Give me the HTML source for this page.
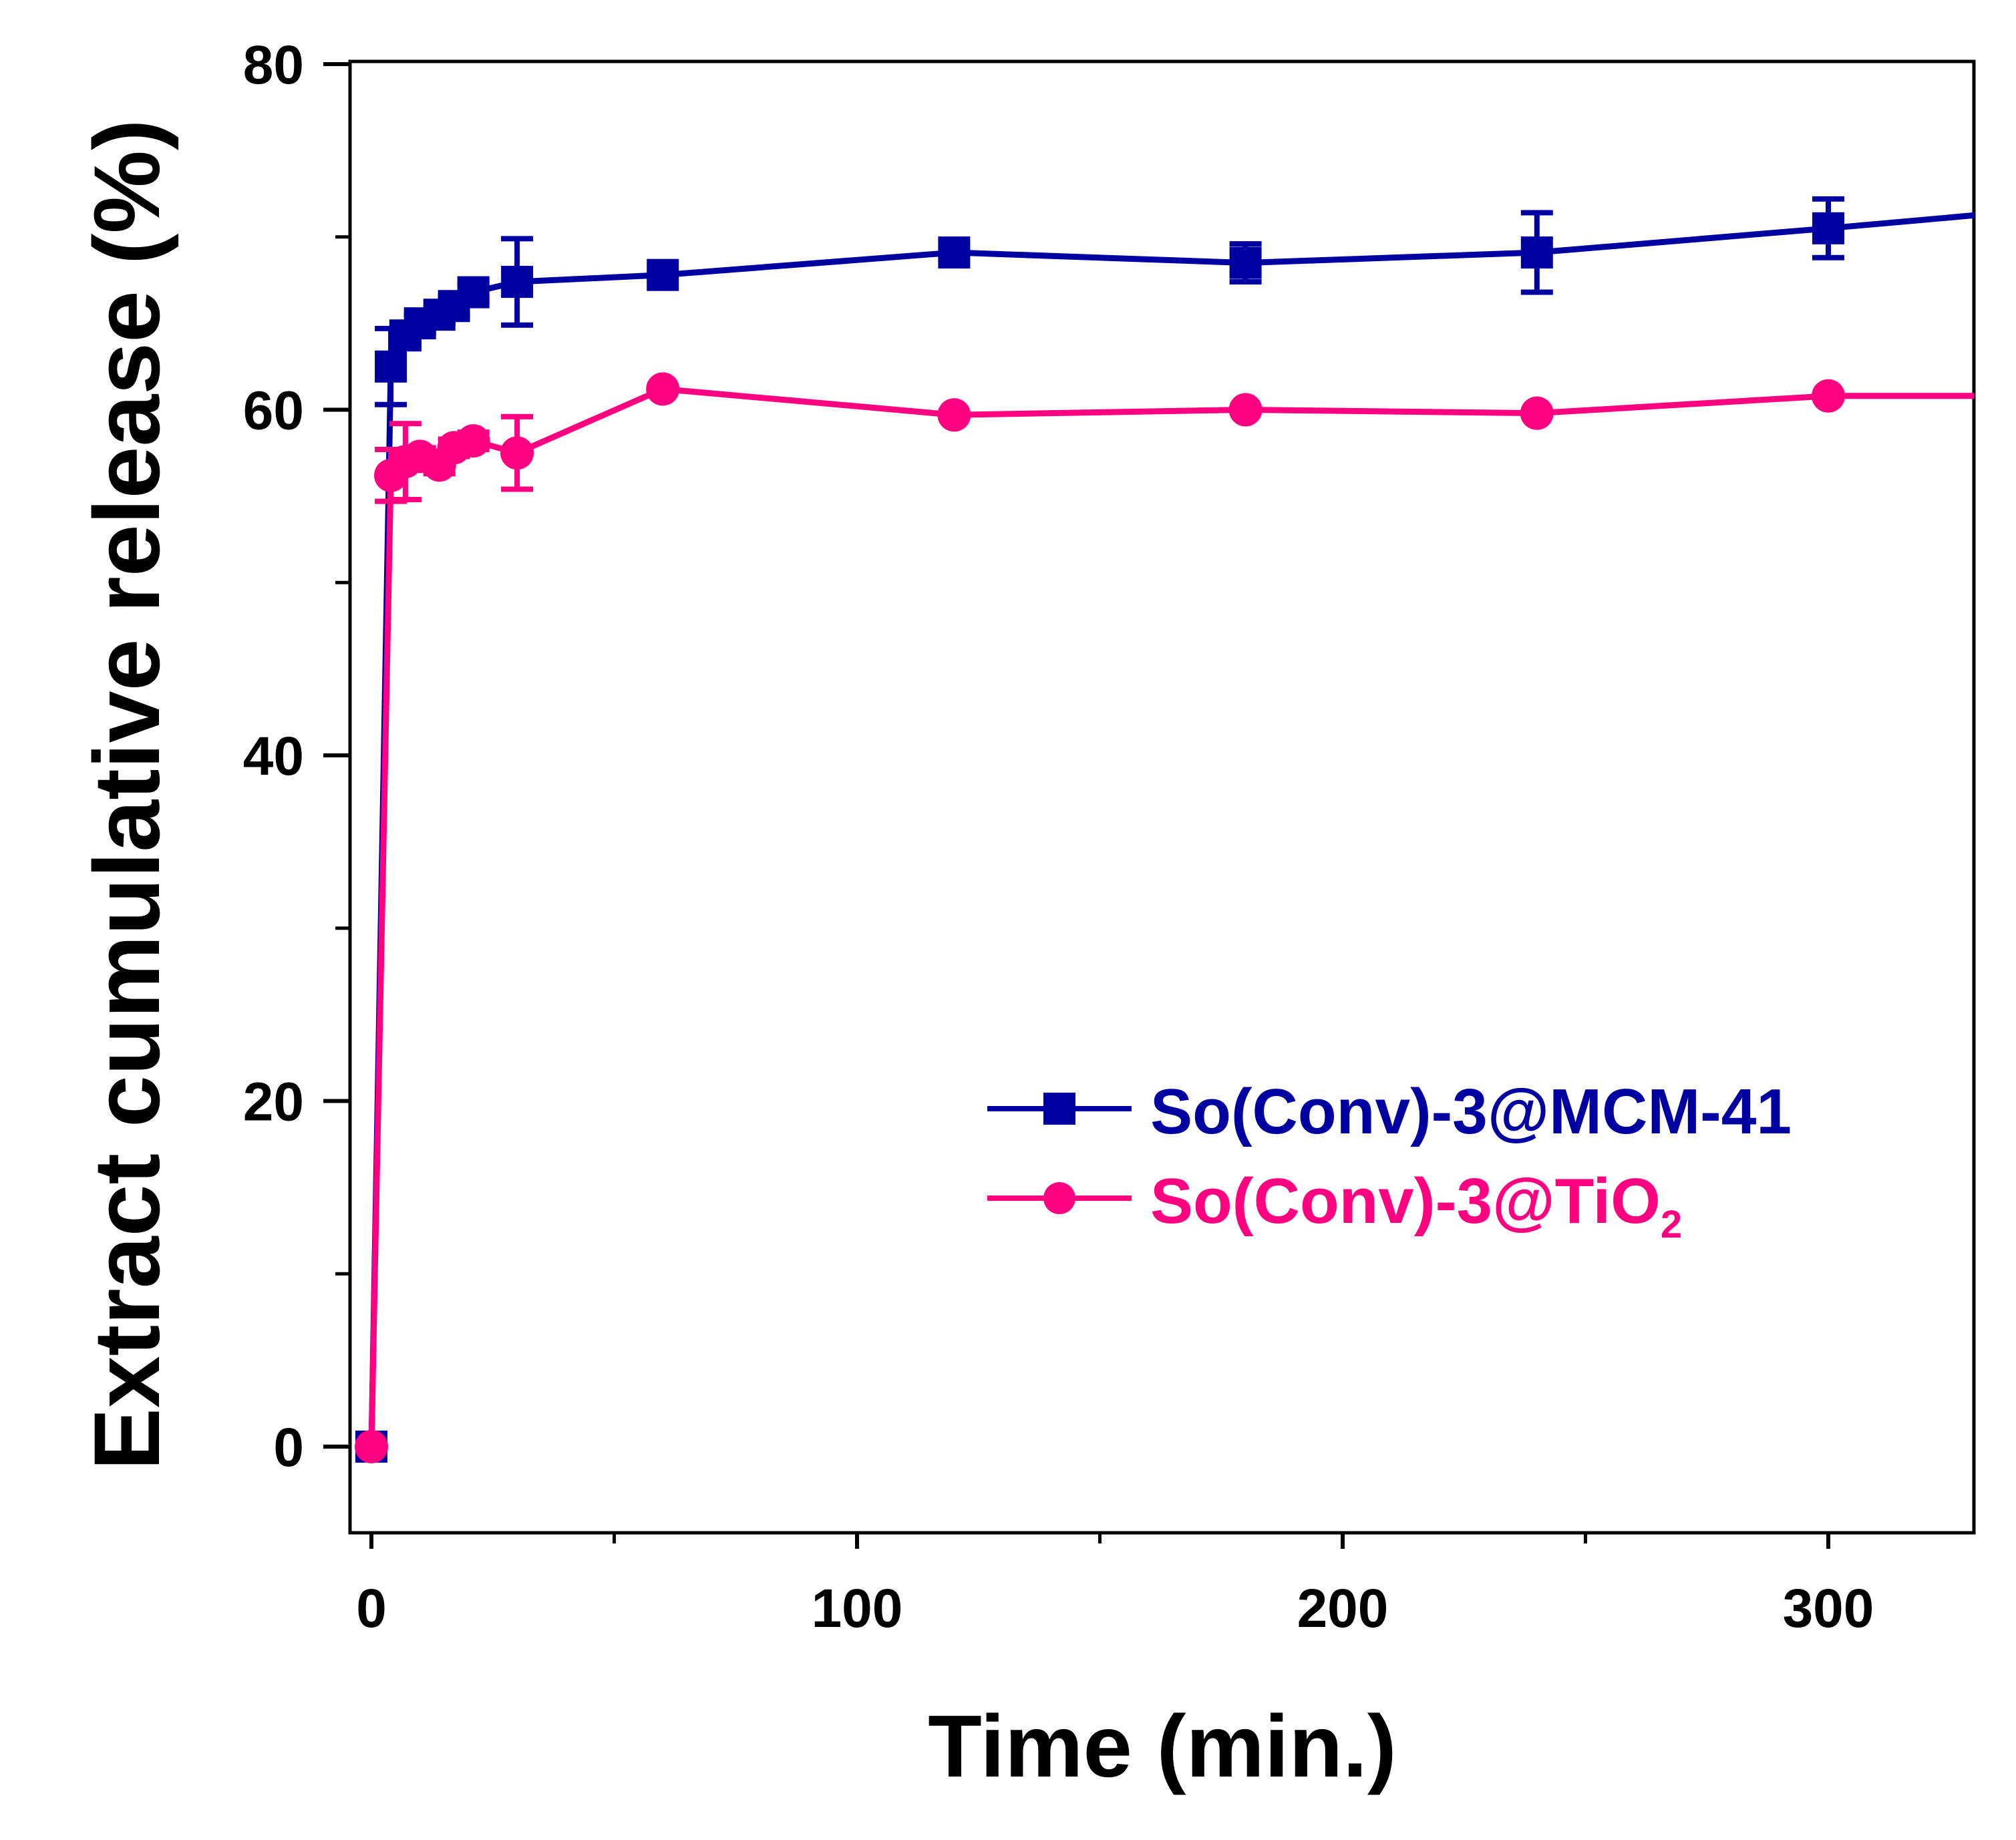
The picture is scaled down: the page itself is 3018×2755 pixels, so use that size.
<!DOCTYPE html>
<html><head><meta charset="utf-8"><style>html,body{margin:0;padding:0;background:#fff}svg{display:block}</style></head>
<body>
<svg id="chart" width="3018" height="2755" viewBox="0 0 3018 2755" xmlns="http://www.w3.org/2000/svg" font-family="'Liberation Sans', sans-serif">
<g id="axes"></g>
<g id="plot"></g>
<text transform="translate(238,1190) rotate(-90)" text-anchor="middle" font-size="140" font-weight="bold" fill="#000">Extract cumulative release (%)</text>
<text x="1740" y="2660" text-anchor="middle" font-size="132" font-weight="bold" fill="#000">Time (min.)</text>
<g>
 <g>
  <line x1="1478" y1="1660" x2="1694" y2="1660" stroke="#0000a0" stroke-width="8"/>
  <rect x="1562" y="1636" width="48" height="48" fill="#0000a0"/>
  <text x="1722" y="1697" font-size="96" font-weight="bold" fill="#0000a0" textLength="960" lengthAdjust="spacingAndGlyphs">So(Conv)-3@MCM-41</text>
 </g>
 <g>
  <line x1="1478" y1="1794" x2="1694" y2="1794" stroke="#ff0080" stroke-width="8"/>
  <circle cx="1586" cy="1794" r="24" fill="#ff0080"/>
  <text x="1722" y="1831" font-size="96" font-weight="bold" fill="#ff0080">So(Conv)-3@TiO<tspan font-size="58" dy="22">2</tspan></text>
 </g>
</g>
</svg>
<script>
const timesMCM = [0, 4, 7, 10, 14, 17, 21, 30, 60, 120, 180, 240, 300, 360];
const valuesMCM = [0, 62.5, 64.3, 65, 65.5, 66, 66.8, 67.4, 67.8, 69.1, 68.5, 69.1, 70.5, 72];
const errorsMCM = [0, 2.2, 0.5, 0.5, 0.5, 0.5, 0.5, 2.5, 0.3, 0.3, 1.1, 2.3, 1.7, 0];
const timesTiO2 = [0, 4, 7, 10, 14, 17, 21, 30, 60, 120, 180, 240, 300, 360];
const valuesTiO2 = [0, 56.2, 57, 57.3, 56.8, 57.8, 58.2, 57.5, 61.2, 59.7, 60, 59.8, 60.8, 60.8];
const errorsTiO2 = [0, 1.5, 2.2, 0.5, 0.5, 0.5, 0.5, 2.1, 0.3, 0.3, 0.3, 0.3, 0.3, 0];
const xTicks = [0, 100, 200, 300];
const xMinorTicks = [50, 150, 250];
const yTicks = [0, 20, 40, 60, 80];
const yMinorTicks = [10, 30, 50, 70];

const NS = 'http://www.w3.org/2000/svg';
const L = 524, R = 2955, T = 92, B = 2295;
const xs = v => 556 + v * 7.27;
const ys = v => 2166 - v * 25.875;
function mk(tag, attrs, parent) { const e = document.createElementNS(NS, tag); for (const k in attrs) e.setAttribute(k, attrs[k]); parent.appendChild(e); return e; }
const axes = document.getElementById('axes');
const plot = document.getElementById('plot');

const frame = mk('rect', {x: L, y: T, width: R - L, height: B - T, fill: 'none', stroke: '#000', 'stroke-width': 5}, axes);



yTicks.forEach(v => {
  const t = mk('line', {x1: L - 40, x2: L, y1: ys(v), y2: ys(v), stroke: '#000', 'stroke-width': 6}, axes);
  
  
  const lb = mk('text', {x: 455, y: ys(v) + 29, 'text-anchor': 'end', 'font-size': 82, 'font-weight': 'bold', fill: '#000'}, axes);
  lb.textContent = v;
  
  
});
yMinorTicks.forEach(v => {
  const t = mk('line', {x1: L - 22, x2: L, y1: ys(v), y2: ys(v), stroke: '#000', 'stroke-width': 5}, axes);
  
  
});
xTicks.forEach(v => {
  const t = mk('line', {x1: xs(v), x2: xs(v), y1: B, y2: B + 24, stroke: '#000', 'stroke-width': 6}, axes);
  
  
  const lb = mk('text', {x: xs(v), y: 2436, 'text-anchor': 'middle', 'font-size': 82, 'font-weight': 'bold', fill: '#000'}, axes);
  lb.textContent = v;
  
  
});
xMinorTicks.forEach(v => {
  const t = mk('line', {x1: xs(v), x2: xs(v), y1: B, y2: B + 16, stroke: '#000', 'stroke-width': 5}, axes);
  
  
});

const defs = mk('defs', {}, plot);
const cp = mk('clipPath', {id: 'clip'}, defs);
mk('rect', {x: L, y: T, width: R - L, height: B - T}, cp);
const g = mk('g', {'clip-path': 'url(#clip)'}, plot);

function series(times, vals, errs, color, shape, name) {
  const sg = mk('g', {}, g);
  
  
  const pts = times.map((t, i) => xs(t) + ',' + ys(vals[i])).join(' ');
  const ln = mk('polyline', {points: pts, fill: 'none', stroke: color, 'stroke-width': 9}, sg);
  
  
  times.forEach((t, i) => {
    const cx = xs(t), cy = ys(vals[i]);
    if (errs[i] > 0.4) {
      const eb = mk('path', {d: `M${cx},${ys(vals[i]-errs[i])}V${ys(vals[i]+errs[i])}M${cx-24},${ys(vals[i]-errs[i])}h48M${cx-24},${ys(vals[i]+errs[i])}h48`, stroke: color, 'stroke-width': 8, fill: 'none'}, sg);
      
      
    }
    let m;
    if (shape === 'square') m = mk('rect', {x: cx - 24, y: cy - 24, width: 48, height: 48, fill: color}, sg);
    else m = mk('circle', {cx: cx, cy: cy, r: 25, fill: color}, sg);
    
    
  });
}
series(timesMCM, valuesMCM, errorsMCM, '#0000a0', 'square', 'mcm41-series');
series(timesTiO2, valuesTiO2, errorsTiO2, '#ff0080', 'circle', 'tio2-series');
</script>
</body></html>
